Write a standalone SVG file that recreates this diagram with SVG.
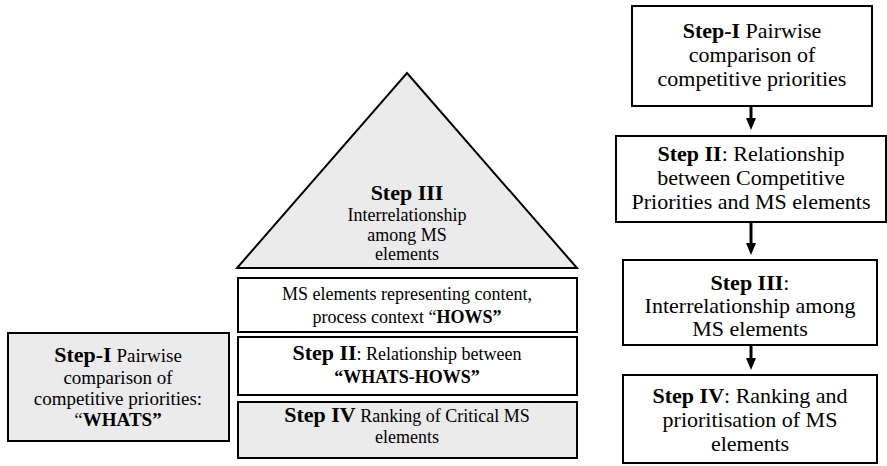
<svg xmlns="http://www.w3.org/2000/svg" width="887" height="466" viewBox="0 0 887 466">
<defs>
<marker id="ah" viewBox="0 0 12 10" refX="0" refY="5" markerWidth="12" markerHeight="10" markerUnits="userSpaceOnUse" orient="auto">
<path d="M0,0 L12,5 L0,10 z" fill="#000"/>
</marker>
</defs>
<style>
.box{fill:#fff;stroke:#000;stroke-width:2}
.gray{fill:#ebebeb}
text{font-family:"Liberation Serif","Times New Roman",serif;text-anchor:middle;fill:#000}
.r{font-size:22px}
.c{font-size:18px}
.l{font-size:19px}
.b{font-weight:bold}
.big{font-size:22px;font-weight:bold}
.conn{stroke:#000;stroke-width:3;fill:none}
</style>
<rect width="887" height="466" fill="#fff"/>

<g id="triangle-step3">
<polygon points="407,73 577,268 237,268" fill="#ebebeb" stroke="#000" stroke-width="2"/>
<text x="407" y="200" class="big">Step III</text>
<text x="407" y="221" class="c">Interrelationship</text>
<text x="407" y="241" class="c">among MS</text>
<text x="407" y="260" class="c">elements</text>
</g>

<g id="center-hows">
<rect x="238" y="278" width="339" height="54" class="box"/>
<text x="407" y="300" class="c">MS elements representing content,</text>
<text x="407" y="323" class="c">process context “<tspan class="b">HOWS”</tspan></text>
</g>

<g id="center-step2">
<rect x="238" y="337" width="339" height="58" class="box"/>
<text x="407" y="360" class="c"><tspan class="big">Step II</tspan>: Relationship between</text>
<text x="407" y="383" class="c b">“WHATS-HOWS”</text>
</g>

<g id="center-step4">
<rect x="238" y="402" width="339" height="56" class="box gray"/>
<text x="407" y="422" class="c"><tspan class="big">Step IV</tspan> Ranking of Critical MS</text>
<text x="407" y="443" class="c">elements</text>
</g>

<g id="left-step1">
<rect x="8" y="333" width="221" height="108" class="box gray"/>
<text x="118" y="362" class="l"><tspan class="big">Step-I</tspan> Pairwise</text>
<text x="118" y="384" class="l">comparison of</text>
<text x="118" y="405" class="l">competitive priorities:</text>
<text x="118" y="426" class="l">“<tspan class="b">WHATS”</tspan></text>
</g>

<g id="right-step1">
<rect x="632" y="6" width="240" height="100" class="box"/>
<text x="752" y="38" class="r"><tspan class="b">Step-I</tspan> Pairwise</text>
<text x="752" y="62" class="r">comparison of</text>
<text x="752" y="86" class="r">competitive priorities</text>
</g>

<g id="right-step2">
<rect x="616" y="136" width="270" height="86" class="box"/>
<text x="751" y="161" class="r"><tspan class="b">Step II</tspan>: Relationship</text>
<text x="751" y="185" class="r">between Competitive</text>
<text x="751" y="209" class="r">Priorities and MS elements</text>
</g>

<g id="right-step3">
<rect x="623" y="260" width="254" height="85" class="box"/>
<text x="750" y="290" class="r"><tspan class="b">Step III</tspan>:</text>
<text x="750" y="313" class="r">Interrelationship among</text>
<text x="750" y="336" class="r">MS elements</text>
</g>

<g id="right-step4">
<rect x="623" y="375" width="254" height="88" class="box"/>
<text x="750" y="403" class="r"><tspan class="b">Step IV</tspan>: Ranking and</text>
<text x="750" y="427" class="r">prioritisation of MS</text>
<text x="750" y="451" class="r">elements</text>
</g>

<g id="connectors">
<line x1="751" y1="106" x2="751" y2="118" class="conn" marker-end="url(#ah)"/>
<line x1="751" y1="222" x2="751" y2="243" class="conn" marker-end="url(#ah)"/>
<line x1="751" y1="345" x2="751" y2="358" class="conn" marker-end="url(#ah)"/>
</g>
</svg>
